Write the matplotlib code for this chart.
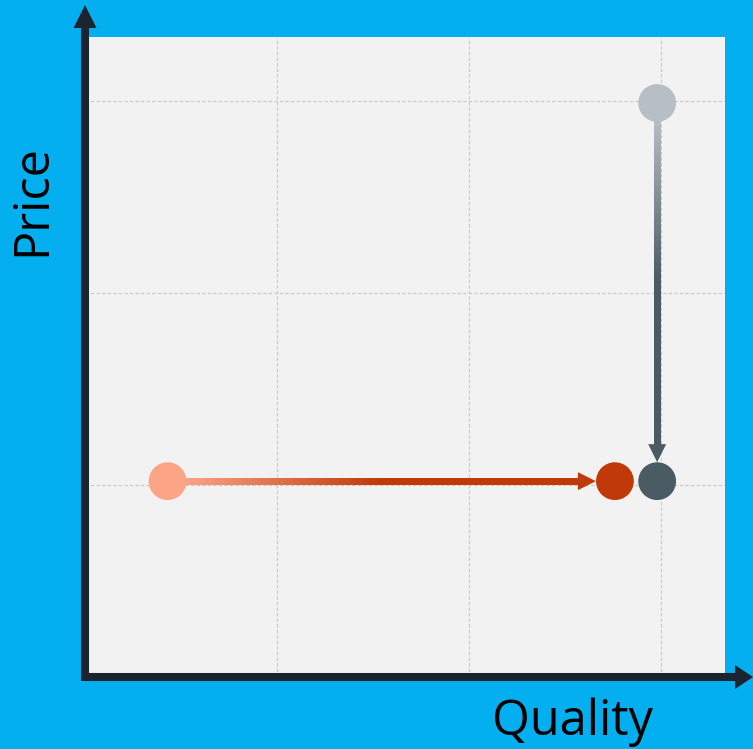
import matplotlib.pyplot as plt
import numpy as np
from matplotlib.collections import LineCollection
from matplotlib.patches import Polygon
from matplotlib.colors import to_rgb

# points: (quality, price)
start_a = (0.43, 1.02)   # light salmon
end_a = (2.76, 1.02)     # dark orange
start_b = (2.98, 2.99)   # light grey
end_b = (2.98, 1.02)     # dark slate

col_a = ["#FCA486", "#BF3A08"]
col_b = ["#B7BFC5", "#4A5B64"]

grid_vals = [1, 2, 3]

bg = "#03AFEE"
axis_col = "#1C2331"

fig = plt.figure(figsize=(7.53, 7.49), dpi=100, facecolor=bg)
ax = fig.add_axes([85 / 753, 72 / 749, 640 / 753, 640 / 749])
ax.set_facecolor("#F2F2F2")
ax.set_xlim(0, 640 / 192)
ax.set_ylim(0, 640 / 192)
for s in ax.spines.values():
    s.set_visible(False)
ax.set_xticks(grid_vals)
ax.set_yticks(grid_vals)
ax.tick_params(length=0, labelbottom=False, labelleft=False)
ax.grid(True, ls=(0, (3, 2)), color="#C8C8C8", lw=0.8)
ax.set_axisbelow(True)

r = 19 / 192      # marker radius in data units
hl = 18 / 192     # arrow head length
hw = 9 / 192      # arrow head half width


def grad_arrow(p0, p1, cols):
    p0 = np.array(p0)
    p1 = np.array(p1)
    d = (p1 - p0) / np.linalg.norm(p1 - p0)
    tip = p1 - d * r
    base = tip - d * hl
    a = p0 + d * r
    n = 120
    t = np.linspace(0, 1, n + 1)
    pts = a + np.outer(t, base - a)
    segs = np.stack([pts[:-1], pts[1:]], axis=1)
    c0 = np.array(to_rgb(cols[0]))
    c1 = np.array(to_rgb(cols[1]))
    tm = np.clip((t[:-1] + t[1:]) / 2 / 0.5, 0, 1)
    colors = c0 + np.outer(tm, c1 - c0)
    ax.add_collection(LineCollection(segs, colors=colors, linewidths=5,
                                     capstyle="projecting", zorder=3))
    perp = np.array([-d[1], d[0]])
    ax.add_patch(Polygon([tip, base + perp * hw, base - perp * hw],
                         closed=True, color=cols[1], lw=0, zorder=3))


grad_arrow(start_a, end_a, col_a)
grad_arrow(start_b, end_b, col_b)

ax.scatter([start_a[0], end_a[0], start_b[0], end_b[0]],
           [start_a[1], end_a[1], start_b[1], end_b[1]],
           s=740, c=[col_a[0], col_a[1], col_b[0], col_b[1]],
           linewidths=0, zorder=4)

# axis arrows
tr = ax.transAxes
ax.plot([0, 0], [-4 / 640, 649 / 640], color=axis_col, lw=5.8,
        transform=tr, clip_on=False, solid_capstyle="butt", zorder=5)
ax.add_patch(Polygon([(-11.5 / 640, 649 / 640), (11.5 / 640, 649 / 640), (0, 672 / 640)],
                     closed=True, color=axis_col, lw=0, transform=tr, clip_on=False, zorder=5))
ax.plot([-4 / 640, 650 / 640], [0, 0], color=axis_col, lw=5.8,
        transform=tr, clip_on=False, solid_capstyle="butt", zorder=5)
ax.add_patch(Polygon([(650 / 640, 12 / 640), (650 / 640, -12 / 640), (668 / 640, 0)],
                     closed=True, color=axis_col, lw=0, transform=tr, clip_on=False, zorder=5))

fig.text(572 / 753, 1 - 722 / 749, "Quality", fontsize=35, family="Open Sans",
         ha="center", va="center", color="black")
fig.text(33 / 753, 1 - 200 / 749, "Price", fontsize=35, family="Open Sans",
         ha="center", va="center", rotation=90, color="black")

fig.savefig("out.png", dpi=100, facecolor=bg)
